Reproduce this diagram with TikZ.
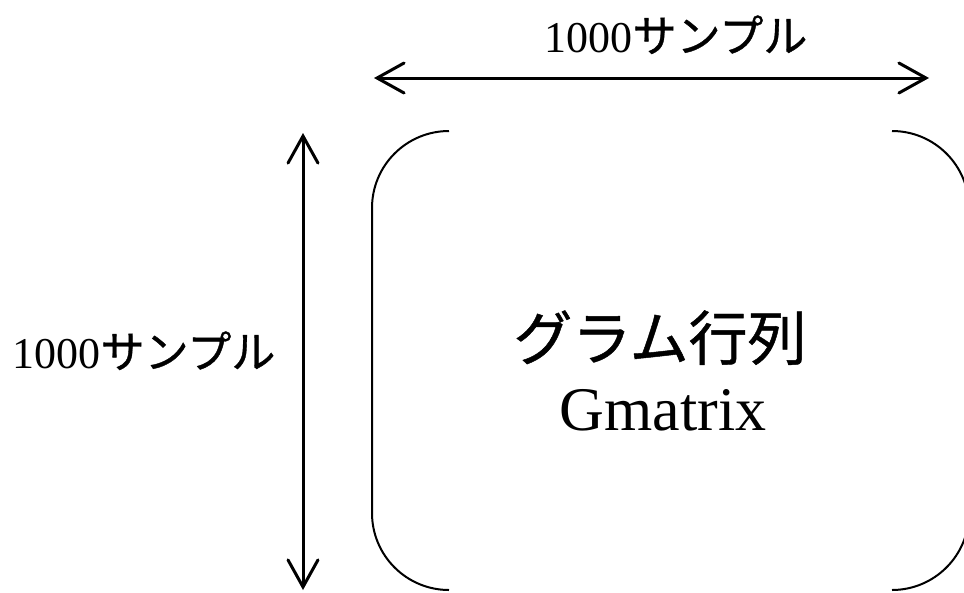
\documentclass[tikz,border=0pt]{standalone}
\usepackage{fontspec}
\setmainfont{Liberation Serif}
\newfontfamily\jp[FakeBold=0.8]{Noto Sans CJK JP}
\usetikzlibrary{arrows.meta}
\begin{document}
\begin{tikzpicture}[x=1pt,y=-1pt,
  dimarrow/.style={line width=3pt,{Straight Barb[length=27pt,width=30pt,line cap=round]}-{Straight Barb[length=27pt,width=30pt,line cap=round]}},
  bracket/.style={line width=2pt,rounded corners=77pt},
  lbl/.style={inner sep=0pt,anchor=base,font=\fontsize{44}{48}\selectfont}]
\useasboundingbox (0,0) rectangle (964,592);
\coordinate (ht) at (374,78);
\coordinate (hb) at (929,78);
\coordinate (vt) at (303,133);
\coordinate (vb) at (303,590);
\draw[dimarrow] (ht) -- (hb);
\draw[dimarrow] (vt) -- (vb);
\node[lbl] (top) at (676,52) {1000{\jp サンプル}};
\node[lbl] (left) at (144,368) {1000{\jp サンプル}};
\draw[bracket] (449,131) -- (372,131) -- (372,590) -- (449,590);
\begin{scope}
\clip (0,0) rectangle (964,592);
\draw[bracket] (892,131) -- (969,131) -- (969,590) -- (892,590);
\end{scope}
\node[inner sep=0pt,anchor=base,font=\jp\fontsize{59}{64}\selectfont] (jt) at (660,360) {グラム行列};
\node[inner sep=0pt,anchor=base,font=\fontsize{62}{66}\selectfont] (en) at (663,430) {Gmatrix};
\end{tikzpicture}
\end{document}
